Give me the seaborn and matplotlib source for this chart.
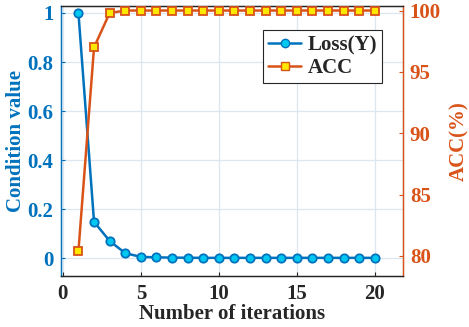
import pandas as pd
import matplotlib
matplotlib.use("Agg")
import matplotlib.pyplot as plt
import seaborn as sns
from matplotlib.lines import Line2D

iterations = list(range(1, 21))
loss = [1.0, 0.148, 0.07, 0.02, 0.005, 0.003, 0.002, 0.0015, 0.001, 0.001,
        0.001, 0.001, 0.001, 0.001, 0.001, 0.001, 0.001, 0.001, 0.001, 0.001]
acc = [80.4, 97.0, 99.8, 100, 100, 100, 100, 100, 100, 100,
       100, 100, 100, 100, 100, 100, 100, 100, 100, 100]

df = pd.DataFrame({"iter": iterations, "loss": loss, "acc": acc})

sns.set_style("ticks")
plt.rcParams["font.family"] = ["Liberation Serif", "DejaVu Serif"]
plt.rcParams["font.weight"] = "bold"

blue = "#0072BD"
orange = "#D95319"

fig = plt.figure(figsize=(4.69, 3.27), dpi=100)
ax = fig.add_axes([0.129, 0.156, 0.73, 0.826])
ax2 = ax.twinx()

sns.lineplot(data=df, x="iter", y="loss", ax=ax, color=blue, lw=1.8,
             marker="o", markersize=6, markerfacecolor="#00C8F0",
             markeredgecolor=blue, markeredgewidth=1.3, zorder=3)
sns.lineplot(data=df, x="iter", y="acc", ax=ax2, color=orange, lw=1.8,
             marker="s", markersize=5.5, markerfacecolor="#FFE800",
             markeredgecolor=orange, markeredgewidth=1.3, zorder=3)

ax.set_xlim(-0.15, 21.8)
ax.set_ylim(-0.073, 1.029)
ax2.set_ylim(78.37, 100.38)
ax.set_xticks([0, 5, 10, 15, 20])
ax.set_yticks([0, 0.2, 0.4, 0.6, 0.8, 1])
ax.set_yticklabels(["0", "0.2", "0.4", "0.6", "0.8", "1"])
ax2.set_yticks([80, 85, 90, 95, 100])

ax.grid(True, color="#DDE6EF", lw=0.9)
ax.set_axisbelow(True)

fs = 15
ax.set_xlabel("Number of iterations", fontsize=fs, fontweight="bold", labelpad=0)
ax.set_ylabel("Condition value", fontsize=fs, fontweight="bold", color=blue, labelpad=1)
ax2.set_ylabel("ACC(%)", fontsize=fs, fontweight="bold", color=orange, labelpad=6)

ax.tick_params(axis="x", labelsize=fs, colors="#262626", direction="in", length=3, pad=6)
ax.tick_params(axis="y", labelsize=fs, colors=blue, direction="in", length=3, pad=5)
ax2.tick_params(axis="y", labelsize=fs, colors=orange, direction="in", length=3, pad=5)
for t in ax.get_xticklabels() + ax.get_yticklabels() + ax2.get_yticklabels():
    t.set_fontweight("bold")

ax2.spines["left"].set_color(blue)
ax2.spines["right"].set_color(orange)
ax2.spines["top"].set_color("#262626")
ax2.spines["bottom"].set_color("#262626")
ax.spines["left"].set_color(blue)
for s in ax2.spines.values():
    s.set_linewidth(1.0)

handles = [
    Line2D([], [], color=blue, lw=1.8, marker="o", markersize=6,
           markerfacecolor="#00C8F0", markeredgecolor=blue),
    Line2D([], [], color=orange, lw=1.8, marker="s", markersize=5.5,
           markerfacecolor="#FFE800", markeredgecolor=orange),
]
leg = ax2.legend(handles, ["Loss(Y)", "ACC"], loc="upper right",
                 bbox_to_anchor=(0.94, 0.91), fontsize=fs, frameon=True,
                 fancybox=False, edgecolor="#262626", framealpha=1,
                 handlelength=1.6, handletextpad=0.3, borderpad=0.25,
                 labelspacing=0.12, borderaxespad=0)
leg.get_frame().set_linewidth(0.8)
for t in leg.get_texts():
    t.set_fontweight("bold")

fig.savefig("out.png", dpi=100)
